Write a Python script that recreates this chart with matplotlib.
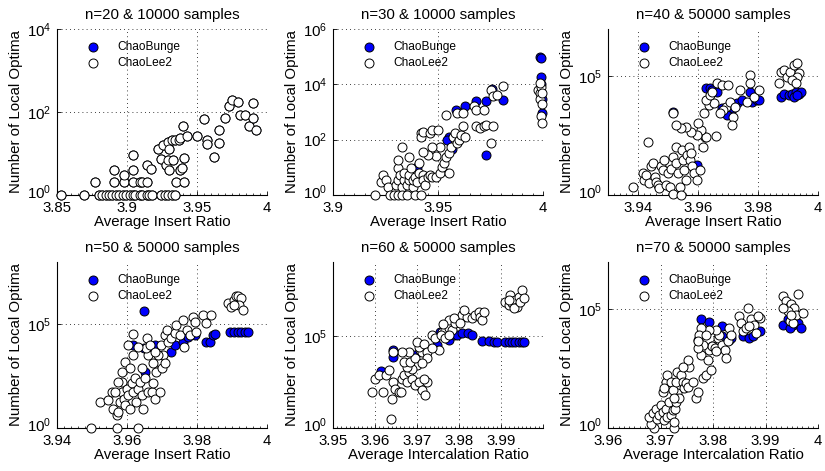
import math
import matplotlib
matplotlib.use("Agg")
import matplotlib.pyplot as plt
import matplotlib.transforms as mtransforms
from matplotlib.ticker import AutoMinorLocator, NullLocator

plt.rcParams['font.family'] = ['Liberation Sans', 'DejaVu Sans']
plt.rcParams['mathtext.fontset'] = 'custom'
plt.rcParams['mathtext.rm'] = 'Liberation Sans'
plt.rcParams['mathtext.it'] = 'Liberation Sans'

# ---- panel 1: n=20 ----
lee1_x = [3.853, 3.869, 3.880, 3.882, 3.885, 3.887, 3.889, 3.892, 3.894, 3.897, 3.899, 3.902,
          3.904, 3.906, 3.909, 3.911, 3.914, 3.916, 3.918, 3.924, 3.927, 3.929, 3.932, 3.934,
          3.877, 3.891, 3.891, 3.898, 3.898, 3.904, 3.904, 3.909, 3.911, 3.914, 3.914, 3.917,
          3.924, 3.928, 3.929, 3.930, 3.933, 3.935, 3.938, 3.939, 3.941, 3.941,
          3.904, 3.922, 3.926, 3.929, 3.930, 3.932, 3.934, 3.937, 3.938, 3.940, 3.943, 3.950,
          3.955, 3.957, 3.957, 3.962, 3.966, 3.966, 3.970, 3.973, 3.975, 3.979, 3.981, 3.984,
          3.987, 3.990, 3.990, 3.992]
lee1_y = [1] * 24 + [2.1, 2.1, 4.0, 2.1, 3.0, 4.0, 2.1, 2.1, 2.1, 2.1, 5.3, 4.2,
                     7.3, 5.3, 7.0, 4.0, 7.0, 2.1, 4.0, 4.4, 2.1, 7.7,
                     9.2, 13, 16, 19, 13, 21, 21, 21, 23, 45, 26, 26,
                     67, 21, 17, 8.4, 18, 37, 71, 136, 197, 179, 85, 85,
                     45, 163, 71, 37]
bunge1_x = lee1_x
bunge1_y = lee1_y

# ---- panel 2: n=30 ----
lee2_x = [3.920, 3.923, 3.924, 3.925, 3.926, 3.927, 3.929, 3.930, 3.931, 3.931, 3.931, 3.932,
          3.933, 3.933, 3.934, 3.934, 3.935, 3.935, 3.936, 3.936, 3.937, 3.938, 3.938, 3.939,
          3.939, 3.940, 3.941, 3.941, 3.942, 3.943, 3.943, 3.944, 3.945, 3.946, 3.947, 3.949,
          3.951, 3.952, 3.953, 3.954, 3.955, 3.956, 3.957, 3.958, 3.959, 3.960, 3.961, 3.962,
          3.963, 3.955, 3.951, 3.949, 3.947, 3.945, 3.943, 3.942, 3.942, 3.943, 3.946, 3.947,
          3.950, 3.933, 3.936, 3.931,
          3.954, 3.959, 3.962, 3.967, 3.968, 3.968, 3.970, 3.972, 3.973, 3.975, 3.976, 3.975,
          3.981, 3.976, 3.978, 3.972,
          3.9975, 3.9985, 3.999, 3.9985, 3.9995, 3.999, 3.9995, 3.9985, 3.9995]
lee2_y = [1, 3, 5.3, 3.5, 2, 1, 1, 2.3, 1, 3.5, 9.3, 5.3,
          2, 1, 3.5, 6.1, 2.3, 1, 3.5, 5.3, 9.3, 2, 3.5, 1,
          4.6, 3, 14, 6, 1, 5.3, 3.5, 2.3, 4.6, 5.3, 4.6, 4.6,
          6.1, 10.6, 14, 24, 32, 56, 130, 171, 74, 98, 149, 300,
          130, 6, 56, 26, 56, 28, 37, 171, 130, 197, 171, 227,
          227, 56, 24, 18,
          790, 910, 910, 1670, 1200, 300, 260, 300, 345, 74, 300, 6350,
          8900, 3650, 4200, 1200,
          6350, 5000, 8000, 3000, 2000, 700, 400, 11100, 5000]
bunge2_x = [3.9554, 3.9565, 3.9586, 3.9629, 3.9682, 3.9727, 3.9759, 3.9811, 3.9727,
            3.9987, 3.9989, 3.9992, 3.9995, 3.9993, 3.9990, 3.9545, 3.9400]
bunge2_y = [130, 46, 1140, 1590, 2400, 2400, 6700, 2760, 28,
            95000, 88000, 19000, 3000, 900, 10000, 100, 10]

# ---- panel 3: n=40 ----
lee3_x = [3.9382, 3.9418, 3.9421, 3.9427, 3.9432, 3.9438, 3.9443, 3.9449, 3.9455, 3.9460,
          3.9466, 3.9471, 3.9477, 3.9483, 3.9488, 3.9494, 3.9499, 3.9505, 3.9511, 3.9516,
          3.9518, 3.9525, 3.9527, 3.9533, 3.9539, 3.9544, 3.9548, 3.9550, 3.9555, 3.9559,
          3.9563, 3.9570, 3.9572, 3.9578, 3.9581, 3.9586, 3.9595, 3.9606, 3.9617, 3.9623,
          3.9628, 3.9611, 3.9595, 3.9578, 3.9561, 3.9544, 3.9527, 3.9518, 3.9600, 3.9619,
          3.9637, 3.9653, 3.9659, 3.9628, 3.9639, 3.9648, 3.9662, 3.9679, 3.9693, 3.9707,
          3.9715, 3.9712, 3.9723, 3.9740, 3.9763, 3.9774, 3.9774, 3.9787, 3.9802, 3.9701,
          3.9684, 3.9673,
          3.9869, 3.9875, 3.9886, 3.9897, 3.9908, 3.9919, 3.9931, 3.9936, 3.9931, 3.9914,
          3.9925]
lee3_y = [2.1, 8.2, 4.3, 7, 178, 3.1, 16, 22, 5.9, 3.6,
          2.6, 1.9, 16, 11, 30, 2.6, 8.2, 2.2, 13, 41,
          1.1, 110, 22, 8.2, 2.2, 1, 79, 30, 11, 4.3,
          49, 110, 30, 57, 16, 8.2, 4.3, 11, 110, 290,
          290, 550, 340, 470, 760, 650, 890, 2750, 1050, 2750,
          6200, 7300, 310, 10000, 16000, 22500, 51000, 43000, 5300, 8600,
          2000, 890, 5300, 26500, 8600, 114000, 51000, 14000, 26500, 43000,
          3800, 2750,
          51000, 158000, 185000, 97000, 158000, 300000, 355000, 134000, 97000, 70000,
          51000]
bunge3_x = [3.9518, 3.9595, 3.9626, 3.9639, 3.9648, 3.9662, 3.9679, 3.9695, 3.9715, 3.9729,
            3.9746, 3.9774, 3.9779, 3.9796, 3.9802, 3.9875, 3.9886, 3.9903, 3.9914, 3.9925,
            3.9936, 3.9919, 3.9942, 3.9931]
bunge3_y = [3250, 18, 31000, 31000, 26500, 22500, 4500, 2350, 4500, 7300,
            10000, 22500, 8600, 10000, 10000, 14000, 19000, 16000, 19000, 22500,
            19000, 14000, 22500, 16000]

# ---- panel 4: n=50 ----
lee4_x = [3.9498, 3.9571, 3.9630,
          3.9523, 3.9547, 3.9556, 3.9561, 3.9571, 3.9575, 3.9580, 3.9585, 3.9587, 3.9590,
          3.9594, 3.9599, 3.9604, 3.9609, 3.9613, 3.9618, 3.9623, 3.9627, 3.9632, 3.9637,
          3.9642, 3.9646, 3.9651, 3.9661, 3.9670, 3.9675, 3.9680, 3.9684, 3.9689, 3.9694,
          3.9699, 3.9703, 3.9708, 3.9689, 3.9675, 3.9661, 3.9653, 3.9656, 3.9665, 3.9680,
          3.9697, 3.9708, 3.9713, 3.9718, 3.9727, 3.9736, 3.9741, 3.9751, 3.9760, 3.9763,
          3.9770, 3.9779, 3.9789, 3.9793, 3.9798, 3.9817, 3.9827, 3.9841, 3.9618, 3.9632,
          3.9604, 3.9594, 3.9609, 3.9585, 3.9575, 3.9566, 3.9618, 3.9642,
          3.9888, 3.9898, 3.9907, 3.9912, 3.9918, 3.9926, 3.9921, 3.9931, 3.9907]
lee4_y = [1, 1, 1,
          18, 22, 55, 8.6, 4.1, 5.9, 18, 55, 170, 26,
          12.5, 80, 38, 8.6, 140, 55, 245, 18, 80, 170,
          38, 8.6, 245, 55, 55, 140, 26, 510, 1550, 55,
          740, 3300, 1300, 3300, 1300, 3300, 6900, 21000, 10000, 4800,
          10000, 30500, 53000, 14500, 21000, 36500, 93000, 30500, 162000, 8300,
          53000, 30500, 235000, 134000, 44000, 283000, 112000, 283000, 33000, 8300,
          10000, 1550, 740, 510, 170, 55, 3300, 740,
          1040000, 710000, 1500000, 2200000, 2200000, 1800000, 870000, 490000, 870000]
bunge4_x = [3.9618, 3.9649, 3.9649, 3.9659, 3.9680, 3.9727, 3.9736, 3.9760, 3.9774, 3.9793,
            3.9827, 3.9836, 3.9845, 3.9850, 3.9893, 3.9907, 3.9917, 3.9926, 3.9936, 3.9945,
            3.9651]
bunge4_y = [10000, 445000, 6900, 5700, 10000, 4800, 10000, 14500, 25000, 30500,
            14000, 14000, 30500, 33000, 44000, 44000, 44000, 44000, 44000, 44000,
            510]

# ---- panel 5: n=60 ----
lee5_x = [3.9637, 3.9618, 3.9593, 3.9601, 3.9609, 3.9625, 3.9633, 3.9642, 3.9640, 3.9648,
          3.9656, 3.9663, 3.9664, 3.9668, 3.9676, 3.9680, 3.9688, 3.9696, 3.9704, 3.9712,
          3.9720, 3.9724, 3.9716, 3.9700, 3.9688, 3.9676, 3.9668, 3.9684, 3.9696, 3.9708,
          3.9712, 3.9704, 3.9700, 3.9716, 3.9724, 3.9736, 3.9744, 3.9752, 3.9760, 3.9767,
          3.9775, 3.9783, 3.9795, 3.9775, 3.9763, 3.9756, 3.9767, 3.9775, 3.9791, 3.9807,
          3.9819, 3.9811, 3.9831, 3.9839, 3.9847, 3.9851, 3.9855, 3.9859, 3.9787, 3.9803,
          3.9736, 3.9724, 3.9712, 3.9680, 3.9664, 3.9644,
          3.9910, 3.9918, 3.9926, 3.9922, 3.9934, 3.9942, 3.9950, 3.9938, 3.9930, 3.9946,
          3.9954, 3.9918]
lee5_y = [3.2, 91, 91, 480, 725, 725, 1350, 316, 39, 138,
          91, 91, 480, 725, 316, 1100, 480, 209, 316, 112,
          60, 316, 480, 2550, 1670, 2100, 3850, 3850, 5900, 16600,
          13500, 25000, 47000, 38000, 13500, 110000, 72000, 16600, 165000, 205000,
          250000, 205000, 710000, 710000, 415000, 110000, 72000, 110000, 470000, 1300000,
          1070000, 2500000, 870000, 1300000, 2000000, 1070000, 710000, 2000000, 870000, 470000,
          20500, 5900, 3150, 13500, 13500, 13500,
          7.0e6, 4.6e6, 5.7e6, 1.6e7, 8.7e6, 1.3e7, 3.0e7, 3.8e6, 3.1e6, 7.0e6,
          1.07e7, 8.7e6]
bunge5_x = [3.9615, 3.9644, 3.9642, 3.9696, 3.9748, 3.9754, 3.9775, 3.9787, 3.9795, 3.9807,
            3.9821, 3.9831, 3.9855, 3.9871, 3.9883, 3.9890, 3.9910, 3.9918, 3.9926, 3.9934,
            3.9942, 3.9950, 3.9954, 3.9680]
bunge5_y = [1200, 7300, 16600, 8900, 31000, 165000, 58000, 110000, 110000, 135000,
            135000, 110000, 51000, 51000, 43500, 47000, 47000, 47000, 47000, 47000,
            47000, 47000, 47000, 1670]

# ---- panel 6: n=70 ----
lee6_x = [3.9688, 3.9726, 3.9682, 3.9678, 3.9685, 3.9691, 3.9694, 3.9697, 3.9701, 3.9704,
          3.9707, 3.9710, 3.9713, 3.9717, 3.9720, 3.9723, 3.9726, 3.9728, 3.9729, 3.9732,
          3.9736, 3.9704, 3.9710, 3.9713, 3.9707, 3.9720, 3.9723, 3.9726, 3.9729, 3.9732,
          3.9739, 3.9742, 3.9745, 3.9748, 3.9752, 3.9755, 3.9752, 3.9742, 3.9761, 3.9768,
          3.9771, 3.9777, 3.9780, 3.9787, 3.9790, 3.9793, 3.9796, 3.9799, 3.9803, 3.9809,
          3.9812, 3.9818, 3.9822, 3.9825, 3.9828, 3.9831, 3.9834, 3.9806, 3.9793, 3.9777,
          3.9774, 3.9780, 3.9787, 3.9806, 3.9771, 3.9771,
          3.9850, 3.9854, 3.9857, 3.9863, 3.9866, 3.9873, 3.9879, 3.9882, 3.9889, 3.9885,
          3.9869,
          3.9933, 3.9939, 3.9946, 3.9949, 3.9955, 3.9959, 3.9962, 3.9971, 3.9943, 3.9946,
          3.9952, 3.9933, 3.9949]
lee6_y = [1, 1, 1.5, 2.9, 4.1, 6.6, 2.5, 3.5, 9.2, 4.8,
          2.1, 6.6, 2.9, 13, 3.5, 5.6, 1.8, 6.6, 13, 29,
          18, 34, 90, 174, 47, 90, 40, 18, 90, 240,
          174, 90, 47, 76, 55, 390, 750, 390, 90, 18,
          34, 1230, 125, 174, 750, 2000, 282, 2750, 2350, 6300,
          8700, 3250, 2000, 890, 4500, 16600, 8700, 14000, 14000, 16600,
          8700, 3250, 8700, 1700, 2350, 4500,
          52000, 27000, 12000, 16600, 118000, 38000, 23000, 10200, 44500, 52000,
          19500,
          370000, 225000, 138000, 163000, 118000, 61000, 435000, 72000, 85000, 32000,
          27000, 118000, 61000]
bunge6_x = [3.9777, 3.9793, 3.9771, 3.9799, 3.9818, 3.9831, 3.9834, 3.9818, 3.9857, 3.9860,
            3.9869, 3.9876, 3.9889, 3.9933, 3.9943, 3.9952, 3.9962, 3.9968, 3.9946]
bunge6_y = [38000, 30000, 5300, 2750, 19500, 5300, 6300, 7400, 7400, 16600,
            6300, 7400, 12000, 23000, 38000, 23000, 27000, 16600, 16600]

titles = ['n=20 & 10000 samples', 'n=30 & 10000 samples', 'n=40 & 50000 samples',
          'n=50 & 50000 samples', 'n=60 & 50000 samples', 'n=70 & 50000 samples']
xlabels = ['Average Insert Ratio'] * 4 + ['Average Intercalation Ratio'] * 2
xlims = [(3.85, 4), (3.9, 4), (3.93, 4), (3.94, 4), (3.95, 4), (3.96, 4)]
xticks = [[3.85, 3.9, 3.95, 4], [3.9, 3.95, 4], [3.94, 3.96, 3.98, 4], [3.94, 3.96, 3.98, 4],
          [3.95, 3.96, 3.97, 3.98, 3.99, 4], [3.96, 3.97, 3.98, 3.99, 4]]
xticklabels = [['3.85', '3.9', '3.95', '4'], ['3.9', '3.95', '4'], ['3.94', '3.96', '3.98', '4'],
               ['3.94', '3.96', '3.98', '4'], ['3.95', '3.96', '3.97', '3.98', '3.99', ''],
               ['3.96', '3.97', '3.98', '3.99', '4']]
ylims = [(1, 1e4), (1, 1e6), (1, 1e7), (1, 1e8), (1, 1e9), (1, 1e7)]
yticks = [[1, 1e2, 1e4], [1, 1e2, 1e4, 1e6], [1, 1e5], [1, 1e5], [1, 1e5], [1, 1e5]]

bunge = [(bunge1_x, bunge1_y), (bunge2_x, bunge2_y), (bunge3_x, bunge3_y),
         (bunge4_x, bunge4_y), (bunge5_x, bunge5_y), (bunge6_x, bunge6_y)]
lee = [(lee1_x, lee1_y), (lee2_x, lee2_y), (lee3_x, lee3_y),
       (lee4_x, lee4_y), (lee5_x, lee5_y), (lee6_x, lee6_y)]

W, H = 825, 471
fig = plt.figure(figsize=(W / 100, H / 100), dpi=100)
lefts = [57, 333, 608]
tops = [29, 262]
aw, ah = 210, 166
fs = 10.8
lift = mtransforms.ScaledTranslation(0, 3 / 72, fig.dpi_scale_trans)

for i in range(6):
    r, c = divmod(i, 3)
    ax = fig.add_axes([lefts[c] / W, 1 - (tops[r] + ah) / H, aw / W, ah / H])
    ax.set_yscale('log')
    bx, by = bunge[i]
    lx, ly = lee[i]
    # blue first, white circles drawn over them
    ax.scatter(bx, by, s=42, facecolor='#0000ff', edgecolor='k', linewidth=0.7,
               clip_on=False, zorder=3, label='ChaoBunge')
    ax.scatter(lx, ly, s=42, facecolor='white', edgecolor='k', linewidth=0.7,
               clip_on=False, zorder=4, label='ChaoLee2')
    ax.set_xlim(*xlims[i])
    ax.set_ylim(*ylims[i])
    ax.set_xticks(xticks[i])
    ax.set_xticklabels(xticklabels[i])
    ax.set_yticks(yticks[i])
    ax.set_yticklabels([r'$10^{%d}$' % round(math.log10(t)) for t in yticks[i]])
    ax.yaxis.set_minor_locator(NullLocator())
    ax.xaxis.set_minor_locator(AutoMinorLocator(10))
    for s in ['top', 'right']:
        ax.spines[s].set_visible(False)
    for s in ['left', 'bottom']:
        ax.spines[s].set_linewidth(0.8)
    ax.grid(True, which='major', linestyle=(0, (1, 4)), color='k', linewidth=0.6)
    ax.tick_params(which='major', direction='in', length=3, width=0.6, labelsize=fs)
    ax.tick_params(axis='x', which='major', pad=4)
    ax.tick_params(axis='y', which='major', pad=4)
    ax.tick_params(which='minor', direction='in', length=1.5, width=0.5)
    # keep the 10^0 label clear of the first x tick label
    lab0 = ax.get_yticklabels()[0]
    lab0.set_transform(lab0.get_transform() + lift)
    ax.set_title(titles[i], fontsize=fs, pad=7)
    ax.set_xlabel(xlabels[i], fontsize=fs, labelpad=0.5)
    ax.set_ylabel('Number of Local Optima', fontsize=fs, labelpad=3)
    ax.legend(loc='upper left', bbox_to_anchor=(0.09, 0.955), frameon=False, fontsize=8.6,
              handletextpad=1.1, labelspacing=0.3, borderaxespad=0, scatterpoints=1)

fig.savefig('out.png', dpi=100)
